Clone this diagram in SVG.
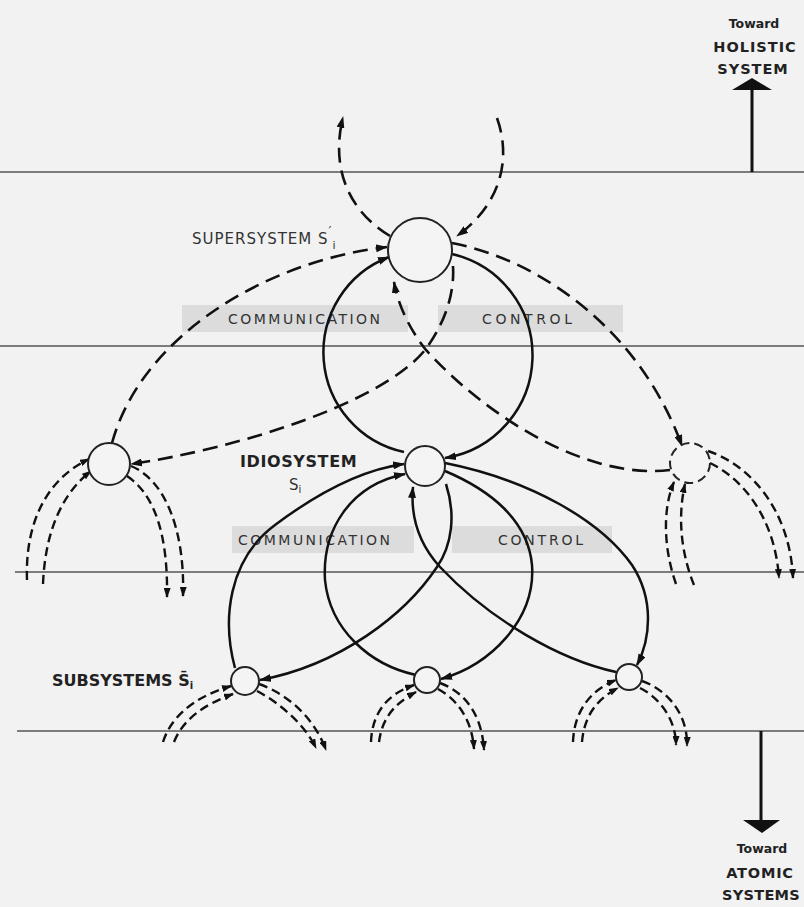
<svg xmlns="http://www.w3.org/2000/svg" width="804" height="907" viewBox="0 0 804 907">
<defs>
<marker id="ah" markerWidth="12" markerHeight="8" refX="11" refY="4" orient="auto" markerUnits="userSpaceOnUse"><path d="M0,0 L12,4 L0,8 z" fill="#111"/></marker>
<marker id="as" markerWidth="10" markerHeight="7" refX="9" refY="3.5" orient="auto" markerUnits="userSpaceOnUse"><path d="M0,0 L10,3.5 L0,7 z" fill="#111"/></marker>
<style>
.bg{fill:#f2f2f2}
.lvl{stroke:#555;stroke-width:1.6}
.band{fill:#dcdcdc}
.solid{fill:none;stroke:#111;stroke-width:2.5}
.dash{fill:none;stroke:#111;stroke-width:2.6;stroke-dasharray:15 8}
.dd{fill:none;stroke:#111;stroke-width:2.4;stroke-dasharray:9 5}
.node{fill:#f4f4f4;stroke:#222;stroke-width:2}
.dnode{fill:#f4f4f4;stroke:#222;stroke-width:2;stroke-dasharray:9 5}
.bt{font-family:"DejaVu Sans",sans-serif;font-size:14px;fill:#333}
.lbl{font-family:"DejaVu Sans",sans-serif;font-size:15px;fill:#333}
.lblb{font-family:"DejaVu Sans",sans-serif;font-size:16px;font-weight:bold;fill:#222}
.dir{font-family:"DejaVu Sans",sans-serif;font-weight:bold;fill:#222;text-anchor:middle}
</style>
</defs>
<rect class="bg" x="0" y="0" width="804" height="907"/>

<g id="levels">
<line class="lvl" x1="0" y1="172" x2="804" y2="172"/>
<line class="lvl" x1="0" y1="346" x2="804" y2="346"/>
<line class="lvl" x1="15" y1="572" x2="804" y2="572"/>
<line class="lvl" x1="17" y1="731" x2="804" y2="731"/>
</g>

<g id="bands">
<rect class="band" x="182" y="305" width="226" height="27"/>
<rect class="band" x="438" y="305" width="185" height="27"/>
<text class="bt" x="228" y="324" textLength="152" lengthAdjust="spacing">COMMUNICATION</text>
<text class="bt" x="482" y="324" textLength="90" lengthAdjust="spacing">CONTROL</text>
<rect class="band" x="232" y="526" width="182" height="27"/>
<rect class="band" x="452" y="526" width="160" height="27"/>
<text class="bt" x="238" y="545" textLength="152" lengthAdjust="spacing">COMMUNICATION</text>
<text class="bt" x="498" y="545" textLength="85" lengthAdjust="spacing">CONTROL</text>
</g>

<g id="toward-holistic">
<line x1="752" y1="88" x2="752" y2="172" stroke="#111" stroke-width="3"/>
<path d="M752,78 L772,90 L732,90 z" fill="#111"/>
<text class="dir" x="754" y="28" font-size="12.5">Toward</text>
<text class="dir" x="755" y="52" font-size="14.5" letter-spacing="1">HOLISTIC</text>
<text class="dir" x="753" y="74" font-size="14.5" letter-spacing="1">SYSTEM</text>
</g>

<g id="toward-atomic">
<line x1="761" y1="731" x2="761" y2="822" stroke="#111" stroke-width="3"/>
<path d="M743,820 L780,820 L762,833 z" fill="#111"/>
<text class="dir" x="762" y="853" font-size="12.5">Toward</text>
<text class="dir" x="760" y="878" font-size="14.5" letter-spacing="0.8">ATOMIC</text>
<text class="dir" x="761" y="900" font-size="14.5" letter-spacing="0.3">SYSTEMS</text>
</g>

<g id="connectors">
<path class="dash" d="M390,236 C350,212 330,170 343,117" marker-end="url(#ah)"/>
<path class="dash" d="M497,118 C512,160 500,205 457,236" marker-end="url(#ah)"/>
<path class="dash" d="M112,443 C140,340 260,262 387,247" marker-end="url(#ah)"/>
<path class="dash" d="M452,243 C540,260 640,330 682,446" marker-end="url(#ah)"/>
<path class="dash" d="M670,470 C590,480 490,420 426,350 C410,330 398,305 394,282" marker-end="url(#ah)"/>
<path class="dash" d="M453,266 C455,300 440,330 425,350 C380,405 230,450 131,464" marker-end="url(#ah)"/>
<path class="solid" d="M404,452 A102,102 0 0 1 389,257" marker-end="url(#ah)"/>
<path class="solid" d="M452,254 A104,104 0 0 1 445,458" marker-end="url(#ah)"/>
<path class="solid" d="M235,668 C222,620 228,560 275,525 C315,495 360,470 404,464" marker-end="url(#ah)"/>
<path class="solid" d="M416,675 C370,665 330,630 325,580 C322,530 350,485 405,474" marker-end="url(#ah)"/>
<path class="solid" d="M446,484 C456,515 452,545 437,567 C405,615 340,665 260,680" marker-end="url(#ah)"/>
<path class="solid" d="M616,672 C560,660 490,620 440,567 C420,545 410,520 413,487" marker-end="url(#ah)"/>
<path class="solid" d="M445,471 C490,490 528,520 532,565 C536,620 490,665 441,679" marker-end="url(#ah)"/>
<path class="solid" d="M445,463 C530,480 600,520 632,565 C655,600 650,640 637,665" marker-end="url(#ah)"/>
<path class="dd" d="M27,580 C25,525 45,480 89,459" marker-end="url(#as)"/>
<path class="dd" d="M43,584 C45,535 60,495 91,471" marker-end="url(#as)"/>
<path class="dd" d="M131,466 C165,480 185,530 183,596" marker-end="url(#as)"/>
<path class="dd" d="M127,476 C155,495 168,535 167,597" marker-end="url(#as)"/>
<path class="dd" d="M676,584 C664,550 662,510 674,482" marker-end="url(#as)"/>
<path class="dd" d="M694,585 C680,550 678,515 685,484" marker-end="url(#as)"/>
<path class="dd" d="M708,451 C750,465 790,510 793,578" marker-end="url(#as)"/>
<path class="dd" d="M710,463 C745,480 775,520 779,578" marker-end="url(#as)"/>
<path class="dd" d="M163,742 C170,720 190,698 231,686" marker-end="url(#as)"/>
<path class="dd" d="M174,742 C182,722 200,706 233,694" marker-end="url(#as)"/>
<path class="dd" d="M259,684 C290,695 315,720 326,750" marker-end="url(#as)"/>
<path class="dd" d="M257,691 C280,703 305,725 316,748" marker-end="url(#as)"/>
<path class="dd" d="M371,742 C372,715 385,695 414,685" marker-end="url(#as)"/>
<path class="dd" d="M379,742 C382,720 392,705 416,692" marker-end="url(#as)"/>
<path class="dd" d="M440,683 C465,692 482,715 484,750" marker-end="url(#as)"/>
<path class="dd" d="M438,689 C458,700 472,720 474,749" marker-end="url(#as)"/>
<path class="dd" d="M573,742 C574,712 590,690 616,680" marker-end="url(#as)"/>
<path class="dd" d="M582,742 C584,718 595,700 618,688" marker-end="url(#as)"/>
<path class="dd" d="M642,681 C668,690 688,715 687,746" marker-end="url(#as)"/>
<path class="dd" d="M640,688 C660,698 676,720 676,745" marker-end="url(#as)"/>
</g>

<g id="supersystem">
<circle class="node" cx="420" cy="250" r="32"/>
<text class="lbl" x="192" y="244" letter-spacing="1">SUPERSYSTEM S<tspan font-size="13" dy="-9">′</tspan><tspan font-size="11" dy="14">i</tspan></text>
</g>

<g id="idiosystem">
<circle class="node" cx="425" cy="466" r="20"/>
<text class="lblb" x="240" y="467" letter-spacing="0.6">IDIOSYSTEM</text>
<text class="lbl" x="289" y="490">S<tspan font-size="10" dy="3">i</tspan></text>
</g>

<g id="left-node">
<circle class="node" cx="109" cy="464" r="21"/>
</g>

<g id="right-node">
<circle class="dnode" cx="690" cy="463" r="20"/>
</g>

<g id="subsystem-left">
<circle class="node" cx="245" cy="681" r="14"/>
<text class="lblb" x="52" y="686">SUBSYSTEMS S̄<tspan font-size="10" dy="3">i</tspan></text>
</g>

<g id="subsystem-middle">
<circle class="node" cx="427" cy="680" r="13"/>
</g>

<g id="subsystem-right">
<circle class="node" cx="629" cy="677" r="13"/>
</g>
</svg>
